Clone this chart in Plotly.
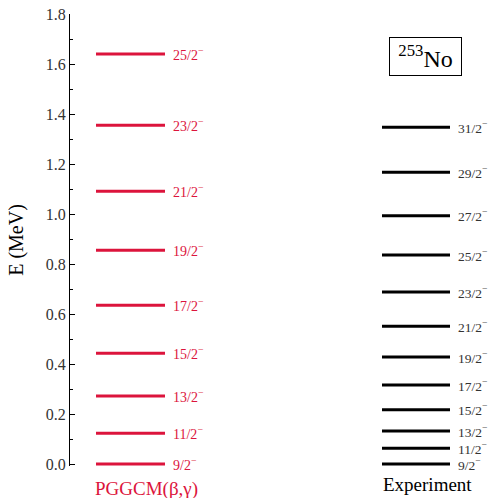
import plotly.graph_objects as go

theory_labels = ["9/2", "11/2", "13/2", "15/2", "17/2", "19/2", "21/2", "23/2", "25/2"]
theory_energy = [0.0, 0.123, 0.272, 0.443, 0.635, 0.855, 1.091, 1.355, 1.640]

exp_labels = ["9/2", "11/2", "13/2", "15/2", "17/2", "19/2", "21/2", "23/2", "25/2", "27/2", "29/2", "31/2"]
exp_energy = [0.0, 0.063, 0.132, 0.217, 0.316, 0.428, 0.551, 0.688, 0.836, 0.993, 1.167, 1.347]

y_ticks = [0.0, 0.2, 0.4, 0.6, 0.8, 1.0, 1.2, 1.4, 1.6, 1.8]

RED = "#DC143C"
FONT = "Liberation Serif"

# column geometry (x in pixel-like units of the plot area)
cols = [
    dict(x0=26, x1=95, xname=76, yname=-0.051, fs=14, e=theory_energy, lab=theory_labels,
         color=RED, lcolor=RED, name="PGGCM(β,γ)"),
    dict(x0=312, x1=380, xname=357, yname=-0.042, fs=13.5, e=exp_energy, lab=exp_labels,
         color="black", lcolor="#333333", name="Experiment"),
]

fig = go.Figure()
ann = []
for c in cols:
    xs, ys = [], []
    for e in c["e"]:
        xs += [c["x0"], c["x1"], None]
        ys += [e, e, None]
    fig.add_trace(go.Scatter(x=xs, y=ys, mode="lines", line=dict(color=c["color"], width=3),
                             showlegend=False, hoverinfo="skip"))
    for e, l in zip(c["e"], c["lab"]):
        ann.append(dict(x=c["x1"] + 6, y=e, xref="x", yref="y", text=f"{l}<sup>−</sup>",
                        showarrow=False, xanchor="left", yanchor="middle",
                        font=dict(family=FONT, size=c["fs"], color=c["lcolor"])))
    ann.append(dict(x=c["xname"], y=c["yname"], xref="x", yref="paper", text=c["name"],
                    showarrow=False, xanchor="center", yanchor="middle",
                    font=dict(family=FONT, size=19, color=c["color"])))

ann.append(dict(x=355.5, y=0.906, xref="x", yref="paper",
                text="<sup>253</sup>No", showarrow=False, xanchor="center", yanchor="middle",
                width=69, height=35, align="center", valign="middle",
                font=dict(family=FONT, size=24, color="black"),
                bordercolor="black", borderwidth=1, borderpad=1, bgcolor="white"))

fig.update_layout(
    width=493, height=498,
    margin=dict(l=70, r=0, t=14, b=32),
    paper_bgcolor="white", plot_bgcolor="white",
    annotations=ann,
    xaxis=dict(range=[0, 423], visible=False, fixedrange=True),
    yaxis=dict(range=[-0.008, 1.8], tickvals=y_ticks, ticktext=[f"{v:.1f}" for v in y_ticks],
               ticks="inside", ticklen=5, tickwidth=1, tickcolor="black",
               minor=dict(ticks="inside", tick0=0, dtick=0.1, ticklen=3, tickcolor="black", showgrid=False),
               showline=True, linecolor="black", linewidth=1.3,
               showgrid=False, zeroline=False, fixedrange=True,
               tickfont=dict(family=FONT, size=16, color="#333333"),
               title=dict(text="E (MeV)", font=dict(family=FONT, size=20, color="black"), standoff=16)),
)

fig.write_html("out.html", config={"displayModeBar": False},
               post_script="document.body.style.margin='0';document.body.style.overflow='hidden';")
